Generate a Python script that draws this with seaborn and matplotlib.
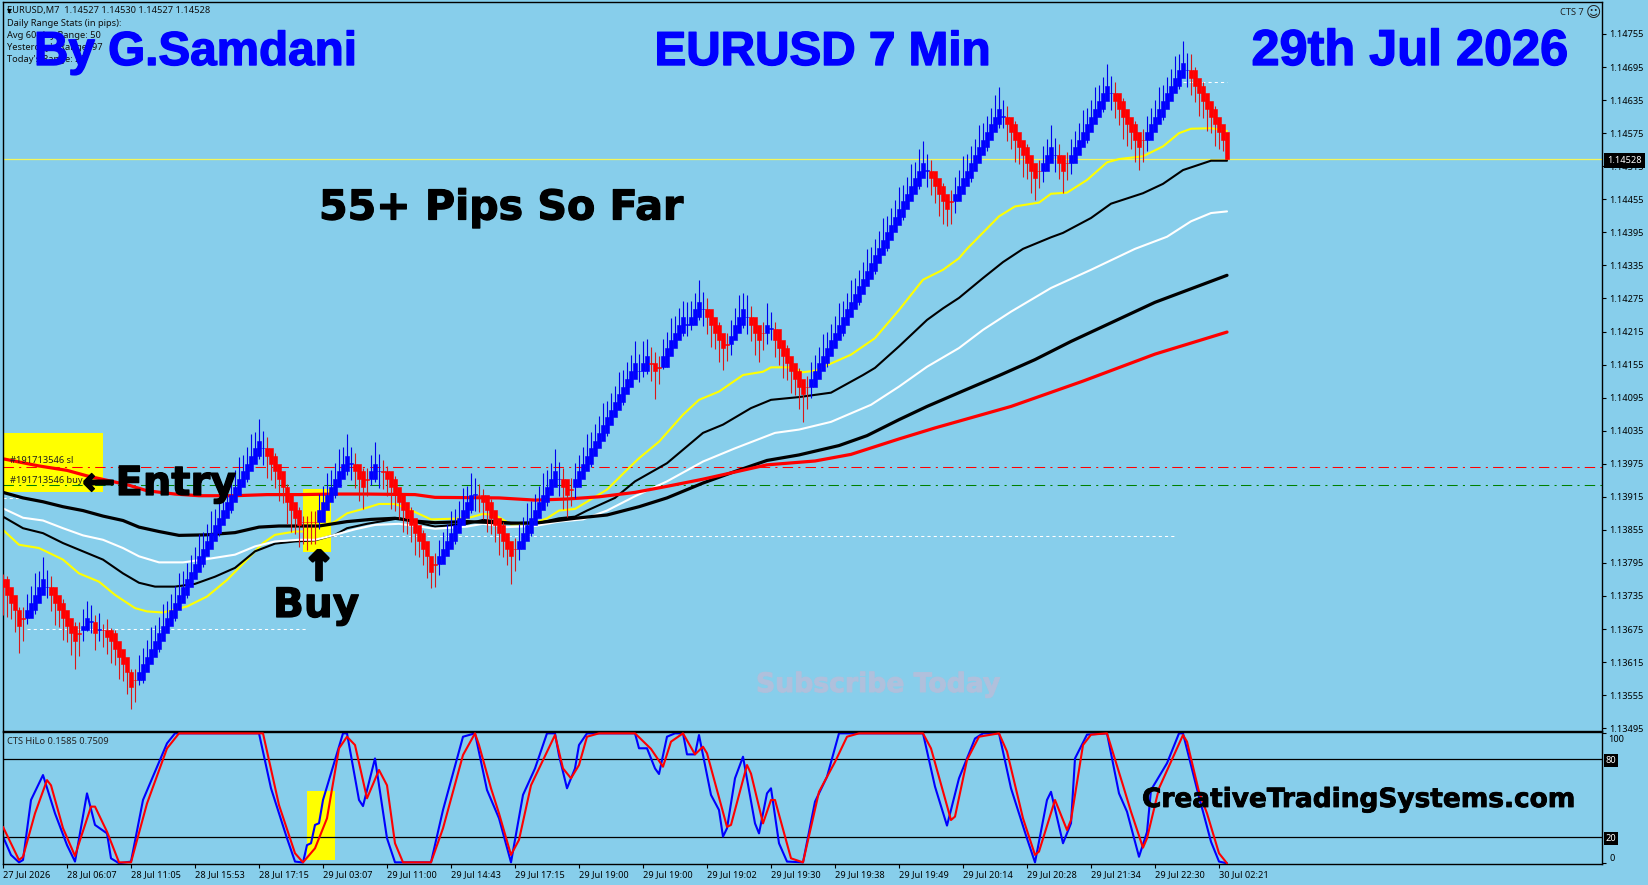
import numpy as np
import matplotlib
matplotlib.use("Agg")
import matplotlib.pyplot as plt
from matplotlib.patches import Rectangle
import matplotlib.patheffects as pe
import seaborn as sns

open_price = [
1.13765,1.13765,1.13751,1.13737,1.13709,1.13695,1.13695,1.13695,1.13709,1.13723,1.13737,1.13751,
1.13751,1.13751,1.13737,1.13723,1.13709,1.13695,1.13681,1.13667,1.13674,1.13674,1.13688,1.13688,
1.13674,1.13674,1.13674,1.13674,1.13667,1.13653,1.13639,1.13625,1.13597,1.13583,
1.13583,1.13583,1.13597,1.13611,1.13625,1.13639,1.13653,1.13667,1.13681,1.13695,1.13709,1.13723,
1.13737,1.13751,1.13765,1.13779,1.13793,1.13807,1.13821,1.13835,1.13849,1.13863,1.13877,1.13891,
1.13905,1.13919,1.13933,1.13947,1.13961,1.13975,1.13989,1.14003,
1.14003,1.14003,1.13989,1.13975,1.13961,1.13933,1.13919,1.13905,1.13891,1.13870,1.13870,1.13870,1.13870,
1.13870,1.13870,1.13891,1.13905,1.13919,1.13933,1.13947,1.13961,1.13975,
1.13975,1.13975,1.13961,1.13947,1.13947,1.13947,1.13961,
1.13961,1.13961,1.13961,1.13947,1.13933,1.13919,1.13905,1.13891,1.13877,1.13863,1.13849,1.13835,1.13807,1.13793,
1.13793,1.13793,1.13807,1.13821,1.13835,1.13849,1.13863,1.13877,1.13891,1.13919,
1.13919,1.13919,1.13919,1.13905,1.13891,1.13877,1.13863,1.13849,1.13835,1.13821,
1.13821,1.13821,1.13835,1.13849,1.13863,1.13877,1.13891,1.13905,1.13919,1.13933,1.13947,
1.13947,1.13947,1.13929,
1.13933,1.13933,1.13947,1.13961,1.13975,1.13989,1.14003,1.14017,1.14031,1.14045,1.14059,1.14073,
1.14087,1.14101,1.14115,1.14129,1.14143,1.14143,1.14143,
1.14157,1.14157,1.14150,
1.14150,1.14150,1.14171,1.14185,1.14199,1.14213,1.14227,1.14227,1.14227,1.14241,1.14255,
1.14255,1.14255,1.14241,1.14227,1.14213,1.14192,
1.14192,1.14199,1.14213,1.14227,1.14241,
1.14241,1.14241,1.14227,1.14213,
1.14213,1.14220,
1.14220,1.14220,1.14199,1.14185,1.14171,1.14157,1.14143,1.14129,1.14115,
1.14115,1.14115,1.14129,1.14143,1.14157,1.14171,1.14185,1.14199,1.14213,1.14227,1.14241,1.14255,
1.14269,1.14283,1.14297,1.14311,1.14325,1.14339,1.14353,1.14367,1.14381,1.14395,1.14409,1.14423,
1.14437,1.14451,1.14465,1.14479,1.14493,1.14507,
1.14507,1.14507,1.14493,1.14479,1.14465,1.14451,
1.14451,1.14451,1.14465,1.14479,1.14493,1.14507,1.14521,1.14535,1.14549,1.14563,1.14577,1.14591,1.14605,
1.14605,1.14605,1.14591,1.14577,1.14563,1.14549,1.14535,1.14521,1.14507,
1.14507,1.14507,1.14521,1.14535,
1.14535,1.14535,1.14521,
1.14521,1.14521,1.14535,1.14549,1.14563,1.14577,1.14591,1.14605,1.14619,1.14633,1.14647,
1.14647,1.14647,1.14633,1.14619,1.14605,1.14591,1.14577,1.14563,
1.14563,1.14563,1.14577,1.14591,1.14605,1.14619,1.14633,1.14647,1.14661,1.14675,1.14689,
1.14689,1.14689,1.14675,1.14661,1.14647,1.14633,1.14619,1.14605,1.14591,1.14577]

close_price = [
1.13751,1.13737,1.13723,1.13709,1.13681,1.13694,1.13709,1.13723,1.13737,1.13751,1.13765,1.13752,
1.13737,1.13723,1.13709,1.13695,1.13681,1.13667,1.13653,1.13666,1.13681,1.13695,1.13689,1.13667,
1.13675,1.13673,1.13660,1.13653,1.13639,1.13625,1.13611,1.13597,1.13569,1.13582,
1.13597,1.13611,1.13625,1.13639,1.13653,1.13667,1.13681,1.13695,1.13709,1.13723,1.13737,1.13751,
1.13765,1.13779,1.13793,1.13807,1.13821,1.13835,1.13849,1.13863,1.13877,1.13891,1.13905,1.13919,
1.13933,1.13947,1.13961,1.13975,1.13989,1.14003,1.14017,1.14004,
1.13989,1.13975,1.13961,1.13947,1.13933,1.13905,1.13891,1.13877,1.13863,1.13869,1.13869,1.13869,1.13869,
1.13891,1.13905,1.13919,1.13933,1.13947,1.13961,1.13975,1.13989,1.13976,
1.13961,1.13947,1.13933,1.13946,1.13961,1.13975,1.13962,
1.13960,1.13947,1.13933,1.13919,1.13905,1.13891,1.13877,1.13863,1.13849,1.13835,1.13821,1.13807,1.13779,1.13792,
1.13807,1.13821,1.13835,1.13849,1.13863,1.13877,1.13891,1.13905,1.13919,1.13920,
1.13918,1.13905,1.13891,1.13877,1.13863,1.13849,1.13835,1.13821,1.13807,1.13820,
1.13835,1.13849,1.13863,1.13877,1.13891,1.13905,1.13919,1.13933,1.13947,1.13961,1.13948,
1.13933,1.13919,1.13928,
1.13947,1.13961,1.13975,1.13989,1.14003,1.14017,1.14031,1.14045,1.14059,1.14073,1.14087,1.14101,
1.14115,1.14129,1.14143,1.14157,1.14144,1.14157,1.14171,
1.14156,1.14143,1.14149,
1.14171,1.14185,1.14199,1.14213,1.14227,1.14241,1.14228,1.14241,1.14255,1.14269,1.14256,
1.14241,1.14227,1.14213,1.14199,1.14185,1.14191,
1.14206,1.14227,1.14241,1.14255,1.14242,
1.14227,1.14213,1.14199,1.14212,
1.14227,1.14221,
1.14199,1.14185,1.14171,1.14157,1.14143,1.14129,1.14115,1.14101,1.14114,
1.14129,1.14143,1.14157,1.14171,1.14185,1.14199,1.14213,1.14227,1.14241,1.14255,1.14269,1.14283,
1.14297,1.14311,1.14325,1.14339,1.14353,1.14367,1.14381,1.14395,1.14409,1.14423,1.14437,1.14451,
1.14465,1.14479,1.14493,1.14507,1.14521,1.14508,
1.14493,1.14479,1.14465,1.14451,1.14437,1.14450,
1.14465,1.14479,1.14493,1.14507,1.14521,1.14535,1.14549,1.14563,1.14577,1.14591,1.14605,1.14619,1.14606,
1.14591,1.14577,1.14563,1.14549,1.14535,1.14521,1.14507,1.14493,1.14506,
1.14521,1.14535,1.14549,1.14536,
1.14521,1.14507,1.14520,
1.14535,1.14549,1.14563,1.14577,1.14591,1.14605,1.14619,1.14633,1.14647,1.14661,1.14648,
1.14633,1.14619,1.14605,1.14591,1.14577,1.14563,1.14549,1.14562,
1.14577,1.14591,1.14605,1.14619,1.14633,1.14647,1.14661,1.14675,1.14689,1.14703,1.14690,
1.14675,1.14661,1.14647,1.14633,1.14619,1.14605,1.14591,1.14577,1.14563,1.14528]

upper_wick_pips = [
1,2,1,1,2,2, 3,3,4,3,4,3, 2,1,1,2,1,1,2,2, 3,3,3, 2, 3, 1,2,1,2,1,1,1,2,2,
3,3,3,4,3,3,4,3,3,3,4,3,3,3,3,4,3,3,4,3,3,3,4,3,3,4,3,3,4,3,4,3,
2,1,2,1,1,2,1,1,2,1,1,2,2, 3,3,4,3,3,4,3,4,3, 2,1,2,2, 3,4,3,
2,1,1,2,1,1,1,2,1,1,2,1,1,2, 3,3,3,4,3,3,4,3,4,3, 2,1,1,2,1,1,2,1,1,2,
3,3,4,3,3,3,4,3,3,4,3, 2,1,2, 3,3,3,4,3,3,3,4,3,3,3,4,3,3,3,4,3,4,3, 3,2,2,
3,3,4,3,3,3,4,3,3,4,3, 2,1,1,2,1,2, 3,3,4,3,4, 2,1,1,2, 4,3, 2,1,1,2,1,1,2,1,2,
3,3,3,4,3,3,3,4,3,3,4,3,3,3,4,3,3,3,4,3,3,3,4,3,3,4,3,4,4,3, 2,1,1,2,1,2,
3,3,4,3,3,3,4,3,3,3,4,4,3, 2,1,2,1,1,2,1,1,2, 3,3,4,3, 2,1,2,
3,3,3,4,3,3,4,3,3,4,3, 2,1,2,1,1,2,1,2, 3,3,3,4,3,3,3,4,3,4,3, 3,2,1,2,1,1,2,1,1,0]

lower_wick_pips = [
5,4,3,4,5,4, 1,1,2,1,1,2, 3,4,3,4,3,4,5,4, 2,1,2, 3, 2, 3,3,4,3,4,3,4,4,4,
1,2,1,1,1,2,1,1,1,2,1,1,2,1,1,1,2,1,1,1,2,1,1,2,1,1,1,2,1,1,2,3,
4,3,3,4,3,4,4,3,4,4,5,4,4, 2,1,1,1,2,1,1,2,3, 3,4,4,3, 1,2,3,
3,3,4,3,3,4,3,3,4,3,3,4,3,4, 2,1,1,1,2,1,1,1,2,3, 3,3,4,3,3,4,3,3,5,4,
2,1,1,2,1,1,1,2,1,1,3, 4,4,3, 2,1,1,1,2,1,1,1,2,1,1,1,2,1,1,1,2,1,2, 3,5,3,
1,2,1,1,1,2,2,1,1,2,3, 3,4,3,4,4,3, 2,1,1,2,3, 3,4,4,3, 2,2, 3,3,4,3,4,3,4,5,4,
2,1,1,1,2,1,1,1,2,1,1,1,2,1,1,1,2,1,1,2,1,1,1,2,1,1,1,2,1,3, 3,3,4,4,3,4,
2,1,1,1,2,1,1,1,2,1,1,2,2, 3,3,4,3,4,3,4,4,3, 2,1,1,3, 3,4,3,
2,1,1,1,2,1,1,1,2,1,3, 3,3,4,4,3,4,4,4, 2,1,1,1,2,1,1,1,2,1,3, 3,3,4,3,4,3,4,3,2,0]

ma_yellow_bar = [0,4,9,15,19,24,28,33,36,40,46,51,56,61,65,68,73,78,83,86,90,94,98,101,107,116,120,123,127,132,136,139,143,146,151,156,159,164,170,174,179,185,190,192,197,200,203,212,218,224,230,235,239,241,249,253,259,262,266,271,276,279,285,290,294,297,302,306]
ma_yellow = [1.13855,1.13828,1.13822,1.13801,1.13776,1.13761,1.13737,1.13713,1.13707,1.13705,1.13716,1.13734,1.13764,1.13801,1.13831,1.13846,1.13852,1.13852,1.13870,1.13885,1.13893,1.13902,1.13902,1.13894,1.13874,1.13876,1.13884,1.13882,1.13865,1.13865,1.13876,1.13890,1.13893,1.13906,1.13928,1.13964,1.13985,1.14015,1.14064,1.14091,1.14106,1.14136,1.14142,1.14150,1.14150,1.14141,1.14144,1.14173,1.14203,1.14254,1.14309,1.14327,1.14348,1.14365,1.14424,1.14442,1.14449,1.14465,1.14467,1.14490,1.14522,1.14528,1.14533,1.14551,1.14575,1.14583,1.14584,1.14579]

ma_black_thin_bar = [0,5,10,15,20,25,30,34,38,43,48,53,58,63,68,73,78,83,86,91,99,108,116,120,127,133,139,143,146,153,158,166,175,180,187,192,199,207,215,218,224,231,235,239,245,250,255,262,265,272,277,285,290,295,302,306]
ma_black_thin = [1.13879,1.13858,1.13849,1.13831,1.13816,1.13801,1.13776,1.13759,1.13752,1.13752,1.13757,1.13770,1.13786,1.13816,1.13830,1.13834,1.13836,1.13846,1.13858,1.13866,1.13876,1.13861,1.13866,1.13873,1.13868,1.13866,1.13876,1.13879,1.13890,1.13913,1.13943,1.13976,1.14031,1.14046,1.14076,1.14091,1.14096,1.14104,1.14136,1.14149,1.14188,1.14236,1.14257,1.14276,1.14312,1.14341,1.14365,1.14386,1.14394,1.14421,1.14447,1.14466,1.14483,1.14508,1.14525,1.14525]

ma_white_bar = [0,5,10,15,20,25,30,34,39,45,51,58,63,68,74,78,83,88,93,99,108,116,120,126,133,139,145,151,158,166,175,183,188,193,199,207,217,224,231,239,245,252,262,272,283,291,297,302,306]
ma_white = [1.13894,1.13877,1.13872,1.13858,1.13845,1.13837,1.13822,1.13807,1.13796,1.13796,1.13802,1.13810,1.13825,1.13834,1.13837,1.13837,1.13846,1.13856,1.13864,1.13866,1.13857,1.13861,1.13866,1.13860,1.13862,1.13870,1.13874,1.13890,1.13916,1.13943,1.13979,1.14003,1.14017,1.14031,1.14037,1.14051,1.14082,1.14115,1.14151,1.14185,1.14218,1.14251,1.14294,1.14327,1.14365,1.14387,1.14415,1.14430,1.14433]

ma_black_thick_bar = [0,5,10,15,20,25,30,34,39,44,51,58,64,69,74,79,86,92,98,103,108,116,127,134,143,151,159,166,175,183,191,199,209,216,224,231,239,249,258,267,288,306]
ma_black_thick = [1.13923,1.13913,1.13906,1.13897,1.13890,1.13880,1.13872,1.13860,1.13852,1.13845,1.13846,1.13850,1.13860,1.13862,1.13862,1.13862,1.13870,1.13874,1.13876,1.13871,1.13868,1.13870,1.13867,1.13868,1.13876,1.13882,1.13897,1.13913,1.13940,1.13961,1.13981,1.13991,1.14008,1.14026,1.14055,1.14079,1.14104,1.14135,1.14164,1.14197,1.14268,1.14317]

ma_red_bar = [0,9,16,21,31,36,43,49,58,66,74,83,91,103,108,124,133,141,149,158,166,175,183,191,203,212,224,233,252,270,288,306]
ma_red = [1.13984,1.13971,1.13963,1.13953,1.13937,1.13926,1.13920,1.13917,1.13917,1.13919,1.13919,1.13920,1.13920,1.13919,1.13914,1.13913,1.13909,1.13911,1.13915,1.13923,1.13934,1.13947,1.13960,1.13973,1.13980,1.13992,1.14020,1.14040,1.14079,1.14125,1.14174,1.14214]

hilo_blue_bar = [0,2,4,5,7,10,13,16,18,21,23,26,27,29,32,35,41,43,64,67,71,73,75,76,77,78,79,80,85,86,89,90,93,96,98,107,110,115,118,121,124,127,130,133,136,138,139,141,143,144,146,158,159,161,163,164,166,168,170,171,173,174,177,179,180,181,183,185,188,189,191,192,194,196,200,203,206,209,211,230,233,236,239,243,245,249,252,256,258,261,262,265,267,268,271,276,279,281,284,286,287,291,294,295,299,300,302,304,306]
hilo_blue = [20.5,6.4,0.7,2.5,48.7,67.9,38.4,14,1.3,53.8,29.5,23,3.8,0,1.3,48.7,92.3,100,100,57.7,19.2,1.3,0.6,14,15.4,29.5,30.8,48.7,100,100,48.7,44,80.7,19.2,0.7,0.7,41,97.4,100,56.4,34.6,0.7,52.6,73,100,100,83,57.7,73,91,100,100,88.5,88.5,73,68.7,97.4,100,100,83.8,83.8,98.7,52.6,41,20.5,26.9,65.4,82,30.7,23,53.8,57.7,15.4,1.3,0.7,47.4,66.6,100,100,100,59,29,65.4,96,100,100,57.7,19,0.7,48.7,55,15.4,30.8,80.7,99,100,53.8,39.7,5,24,56.4,77,100,100,51,39.7,16.6,1.3,0]

hilo_red_bar = [0,4,5,8,11,12,15,18,19,22,23,25,26,29,32,36,41,44,65,69,73,75,78,81,84,86,88,91,94,96,98,100,107,110,115,118,119,122,124,127,129,132,138,140,142,144,146,149,158,162,165,167,170,173,175,176,181,182,186,187,190,192,193,197,200,204,208,211,214,230,232,237,238,241,244,249,251,255,258,259,263,266,267,270,272,276,280,282,285,286,289,295,296,299,301,304,306]
hilo_red = [28,2.5,5,38.4,64,60,27,5.6,15.4,43.6,43.6,30.7,24.3,0.7,0.7,46,88.4,100,100,44.8,7.7,0.7,11.5,34.6,88.4,97.4,91,50,71.8,60,15.4,0.7,0.7,26.9,83.3,100,91,57.7,38.4,6.4,18,60,98.7,73,65.4,75.6,97.4,100,100,88,74.3,93.6,100,83.8,89.7,84.6,28,29.5,75.6,69,30.7,48.7,48.7,3.8,0.7,55,78,97.4,100,100,88.4,33.3,35.9,79.5,97.4,100,86,34.6,6.4,9,48.7,25.6,33.3,91,99,100,60,39.7,12,19.2,57.7,98.7,93.6,55,38.4,7.7,0]

price_ticks = [1.14755,1.14695,1.14635,1.14575,1.14515,1.14455,1.14395,1.14335,1.14275,1.14215,1.14155,1.14095,1.14035,1.13975,1.13915,1.13855,1.13795,1.13735,1.13675,1.13615,1.13555,1.13495]
date_labels = ["27 Jul 2026","28 Jul 06:07","28 Jul 11:05","28 Jul 15:53","28 Jul 17:15","29 Jul 03:07","29 Jul 11:00","29 Jul 14:43","29 Jul 17:15","29 Jul 19:00","29 Jul 19:00","29 Jul 19:02","29 Jul 19:30","29 Jul 19:38","29 Jul 19:49","29 Jul 20:14","29 Jul 20:28","29 Jul 21:34","29 Jul 22:30","30 Jul 02:21"]
stats_lines = ["EURUSD,M7  1.14527 1.14530 1.14527 1.14528","Daily Range Stats (in pips):","Avg 60-day Range: 50","Yesterday's Range: 97","Today's Range: 22"]
last_price = 1.14528
sl_price = 1.13970
buy_price = 1.13936
assert len(open_price) == len(close_price) == len(upper_wick_pips) == len(lower_wick_pips), (len(open_price), len(close_price), len(upper_wick_pips), len(lower_wick_pips))

W, H = 1648, 885
SKY = "#87CEEB"
sns.set_theme(style="white", rc={"axes.facecolor": SKY, "figure.facecolor": SKY, "savefig.facecolor": SKY})
plt.rcParams["font.family"] = ["Noto Sans", "DejaVu Sans"]
fig = plt.figure(figsize=(W / 100, H / 100), dpi=100)

def rect(x0, y0, x1, y1):
    return [x0 / W, 1 - y1 / H, (x1 - x0) / W, (y1 - y0) / H]

ax = fig.add_axes(rect(3, 2.3, 1602, 730.7))
sub = fig.add_axes(rect(3, 732.3, 1602, 864.3))
bars = np.arange(len(open_price))
o, c = np.array(open_price), np.array(close_price)
up = c >= o
bottoms = np.minimum(o, c)
heights = np.abs(c - o)
# wick lengths are read from the close side; the first brick of the body hides the short tail
tail = np.minimum(heights, 0.00014)
hi = np.where(up, c + np.array(upper_wick_pips) * 1e-4, c + tail + np.array(upper_wick_pips) * 1e-4)
lo = np.where(up, c - tail - np.array(lower_wick_pips) * 1e-4, c - np.array(lower_wick_pips) * 1e-4)

ax.add_patch(Rectangle((0, 1.13923), 25, 0.00108, fc="#ffff00", ec="none", zorder=1))
ax.add_patch(Rectangle((75, 1.13814), 7, 0.00115, fc="#ffff00", ec="none", zorder=1))
ax.axhline(last_price, color="#f6f65a", lw=0.9, zorder=1.5)
ax.axhline(sl_price, color="#ff0000", lw=0.75, ls=(0, (10, 5, 2, 5)), zorder=1.5)
ax.axhline(buy_price, color="#008000", lw=0.75, ls=(0, (10, 5, 2, 5)), zorder=1.5)
for y, a, b in [(1.13675, 6, 76), (1.13843, 81, 293), (1.14667, 295, 306), (1.13913, 0, 6)]:
    ax.plot([a, b], [y, y], color="white", lw=0.75, ls=(0, (3, 3)), zorder=1.6)

for xs, ys, col, lw in [(ma_yellow_bar, ma_yellow, "#ffff00", 1.5), (ma_black_thin_bar, ma_black_thin, "#000000", 1.5),
                        (ma_white_bar, ma_white, "#ffffff", 1.5), (ma_black_thick_bar, ma_black_thick, "#000000", 2.3),
                        (ma_red_bar, ma_red, "#ff0000", 2.3)]:
    sns.lineplot(x=xs, y=ys, ax=ax, color=col, linewidth=lw, estimator=None, sort=False, legend=False, zorder=2)

ax.vlines(bars[up], lo[up], hi[up], color="#0000ee", lw=0.8, zorder=3)
ax.vlines(bars[~up], lo[~up], hi[~up], color="#d81818", lw=0.8, zorder=3)
ax.bar(bars[up], heights[up], bottom=bottoms[up], width=1.0, color="#0000ff", edgecolor="#0000ff", linewidth=0.4, zorder=4)
ax.bar(bars[~up], heights[~up], bottom=bottoms[~up], width=1.0, color="#ff0000", edgecolor="#ff0000", linewidth=0.4, zorder=4)

ax.set_xlim(0, 399.75)
ax.set_ylim(1.134905, 1.148125)
ax.set_xticks([])
ax.yaxis.tick_right()
ax.set_yticks(price_ticks)
ax.set_yticklabels([f"{t:.5f}" for t in price_ticks])
ax.tick_params(axis="y", right=True, length=3, width=0.8, color="black", labelsize=6.6, labelcolor="black", pad=2.5)
ax.set_xlabel(""); ax.set_ylabel("")

sub.add_patch(Rectangle((76, 2.5), 7, 53.3, fc="#ffff00", ec="none", zorder=1))
sub.axhline(80, color="black", lw=0.9, zorder=1.5)
sub.axhline(20, color="black", lw=0.9, zorder=1.5)
sns.lineplot(x=hilo_blue_bar, y=hilo_blue, ax=sub, color="#0000ff", linewidth=1.5, estimator=None, sort=False, legend=False, zorder=2)
sns.lineplot(x=hilo_red_bar, y=hilo_red, ax=sub, color="#ff0000", linewidth=1.5, estimator=None, sort=False, legend=False, zorder=3)
sub.set_xlim(0, 399.75)
sub.set_ylim(-0.8, 100.8)
sub.yaxis.tick_right()
sub.set_yticks([0, 100])
sub.set_yticklabels(["", ""])
sub.set_xticks(np.arange(len(date_labels)) * 16)
sub.set_xticklabels(date_labels, ha="left")
sub.tick_params(axis="x", bottom=True, length=3, width=0.8, color="black", labelsize=6.6, labelcolor="black", pad=1.5)
sub.tick_params(axis="y", right=True, length=3, width=0.8, color="black")
sub.set_xlabel(""); sub.set_ylabel("")
for a in (ax, sub):
    for s in a.spines.values():
        s.set_color("black")
        s.set_linewidth(1.0)
        s.set_visible(True)

def T(x, y, s, stroke=0, **kw):
    kw.setdefault("ha", "left")
    kw.setdefault("va", "baseline")
    t = fig.text(x / W, 1 - y / H, s, zorder=10, **kw)
    if stroke:
        t.set_path_effects([pe.withStroke(linewidth=stroke, foreground=kw.get("color", "black"))])
    return t

for s, y in zip(stats_lines, [13.5, 26, 38.5, 50.5, 62.5]):
    T(7, y, s, fontsize=6.7, color="#101010")
T(6.5, 13, "▾", fontsize=7, color="black", family="DejaVu Sans")
T(1584, 15, "CTS 7", fontsize=6.7, color="#202020", ha="right")
T(1586, 16.5, "☺", fontsize=10.5, color="#202020", family="DejaVu Sans")
T(10, 463.5, "#191713546 sl", fontsize=6.7, color="#202020")
T(10, 483, "#191713546 buy", fontsize=6.7, color="#202020")
T(7.5, 744, "CTS HiLo 0.1585 0.7509", fontsize=6.7, color="#202020")
T(1608, 742, "100", fontsize=6.6, color="black")
T(1610, 861, "0", fontsize=6.6, color="black")
box = dict(facecolor="black", edgecolor="none", pad=1.2)
T(1606, 763, "80", fontsize=6.6, color="white", bbox=box)
T(1606, 841, "20", fontsize=6.6, color="white", bbox=box)
T(1607, 163, f"{last_price:.5f}", fontsize=6.6, color="white", bbox=dict(facecolor="black", edgecolor="none", pad=2.2))

BIG = "Liberation Sans"
DJ = "DejaVu Sans"
T(34, 65, "By G.Samdani", stroke=1.0, fontsize=34.3, fontweight="bold", color="#0000ff", family=BIG)
T(654.5, 65, "EURUSD 7 Min", stroke=1.0, fontsize=34.3, fontweight="bold", color="#0000ff", family=BIG)
T(1251.5, 65, "29th Jul 2026", stroke=1.0, fontsize=36.3, fontweight="bold", color="#0000ff", family=BIG)
T(319, 219.5, "55+ Pips So Far", stroke=0.9, fontsize=29.6, fontweight="bold", color="black", family=DJ)
T(82, 495, "←Entry", stroke=0.9, fontsize=28.8, fontweight="bold", color="black", family=DJ)
T(273, 617, "Buy", stroke=0.9, fontsize=29.2, fontweight="bold", color="black", family=DJ)
T(319, 580, "↑", stroke=2.2, fontsize=29, fontweight="bold", color="black", family=DJ, ha="center")
T(1142, 807, "CreativeTradingSystems.com", stroke=0.6, fontsize=19, fontweight="bold", color="black", family=DJ)
T(756, 692, "Subscribe Today", stroke=0.7, fontsize=19.2, fontweight="bold", color="#b0c0dc", family=DJ)

fig.savefig("out.png", dpi=100, facecolor=SKY)
